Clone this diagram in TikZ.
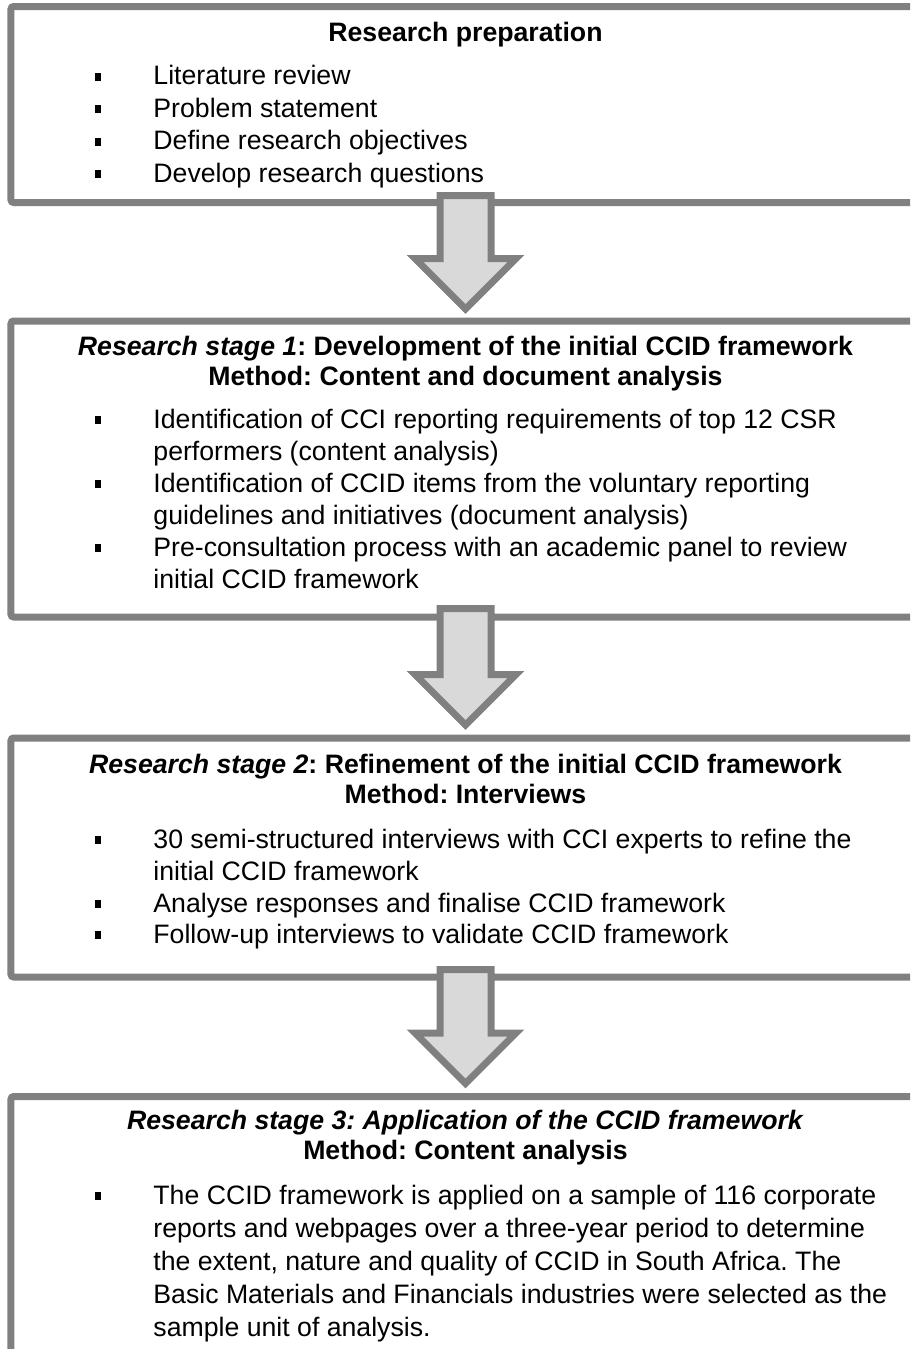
\documentclass[tikz,border=0pt]{standalone}
\usepackage{fontspec}
\setmainfont{Liberation Sans}
\usetikzlibrary{calc}
\frenchspacing

\begin{document}
\begin{tikzpicture}[x=0.45pt, y=-0.45pt]
	\tikzstyle{stage_box} = [rectangle, draw=black!50, fill=white, line width=3.15pt, rounded corners=1.2pt, minimum width=409.05pt, inner sep=0]
	\tikzstyle{stage_arrow} = [draw=black!50, fill=black!15, line width=3.15pt, miter limit=4]
	\tikzstyle{title_line} = [anchor=base, inner sep=0, font=\fontsize{12}{14.4}\selectfont\bfseries]
	\tikzstyle{item_line} = [anchor=base west, inner sep=0, font=\fontsize{12}{14.4}\selectfont]
	\tikzstyle{item_mark} = [rectangle, fill=black, inner sep=0, minimum width=2.7pt, minimum height=3.6pt]

	\useasboundingbox (0,0) rectangle (910,1349);
	\clip (0,0) rectangle (910,1349);

%------------------------------------------------------------
	\node[stage_box, minimum height=88.2pt] (prep) at (465.5,104.5) {};
	\node[stage_box, minimum height=133.2pt] (stage1) at (465.5,469) {};
	\node[stage_box, minimum height=107.55pt] (stage2) at (465.5,857.5) {};
	\node[stage_box, minimum height=127.6pt] (stage3) at (465.5,1238.3) {};

%------------------------------------------------------------

	\draw[stage_arrow] ($(prep.south)+(-25.5,-10.5)$) -- ($(prep.south)+(25.5,-10.5)$) -- ($(stage1.north)+(25.5,-59)$) -- ($(stage1.north)+(50.5,-59)$) -- ($(stage1.north)+(0,-8.5)$) -- ($(stage1.north)+(-50.5,-59)$) -- ($(stage1.north)+(-25.5,-59)$) -- cycle;
	\draw[stage_arrow] ($(stage1.south)+(-25.5,-12)$) -- ($(stage1.south)+(25.5,-12)$) -- ($(stage2.north)+(25.5,-60)$) -- ($(stage2.north)+(50.5,-60)$) -- ($(stage2.north)+(0,-9.5)$) -- ($(stage2.north)+(-50.5,-60)$) -- ($(stage2.north)+(-25.5,-60)$) -- cycle;
	\draw[stage_arrow] ($(stage2.south)+(-25.5,-11)$) -- ($(stage2.south)+(25.5,-11)$) -- ($(stage3.north)+(25.5,-60)$) -- ($(stage3.north)+(50.5,-60)$) -- ($(stage3.north)+(0,-9.5)$) -- ($(stage3.north)+(-50.5,-60)$) -- ($(stage3.north)+(-25.5,-60)$) -- cycle;

%------------------------------------------------------------

	\node[title_line] (prep_title) at (465.5,41) {Research preparation};

	\node[item_mark] (prep_m1) at (98,76.5) {};
	\node[item_mark] (prep_m2) at (98,109) {};
	\node[item_mark] (prep_m3) at (98,141.5) {};
	\node[item_mark] (prep_m4) at (98,174) {};
	\node[item_line] (prep_l1) at (153,84.5) {Literature review};
	\node[item_line] (prep_l2) at (153,117) {Problem statement};
	\node[item_line] (prep_l3) at (153,149.5) {Define research objectives};
	\node[item_line] (prep_l4) at (153,182) {Develop research questions};

%------------------------------------------------------------

	\node[title_line] (stage1_title) at (465.5,355) {\textit{Research stage 1}: Development of the initial CCID framework};
	\node[title_line] (stage1_method) at (465.5,385) {Method: Content and document analysis};

	\node[item_mark] (stage1_m1) at (98,420) {};
	\node[item_mark] (stage1_m2) at (98,484) {};
	\node[item_mark] (stage1_m3) at (98,548) {};
	\node[item_line] (stage1_l1) at (153,428) {Identification of CCI reporting requirements of top 12 CSR};
	\node[item_line] (stage1_l2) at (153,460) {performers (content analysis)};
	\node[item_line] (stage1_l3) at (153,492) {Identification of CCID items from the voluntary reporting};
	\node[item_line] (stage1_l4) at (153,524) {guidelines and initiatives (document analysis)};
	\node[item_line] (stage1_l5) at (153,556) {Pre-consultation process with an academic panel to review};
	\node[item_line] (stage1_l6) at (153,588) {initial CCID framework};

%------------------------------------------------------------

	\node[title_line] (stage2_title) at (465.5,773) {\textit{Research stage 2}: Refinement of the initial CCID framework};
	\node[title_line] (stage2_method) at (465.5,803) {Method: Interviews};

	\node[item_mark] (stage2_m1) at (98,840) {};
	\node[item_mark] (stage2_m2) at (98,904) {};
	\node[item_mark] (stage2_m3) at (98,935) {};
	\node[item_line] (stage2_l1) at (153,848) {30 semi-structured interviews with CCI experts to refine the};
	\node[item_line] (stage2_l2) at (153,880) {initial CCID framework};
	\node[item_line] (stage2_l3) at (153,912) {Analyse responses and finalise CCID framework};
	\node[item_line] (stage2_l4) at (153,943) {Follow-up interviews to validate CCID framework};

%------------------------------------------------------------

	\node[title_line] (stage3_title) at (465.5,1129) {\textit{Research stage 3: Application of the CCID framework}};
	\node[title_line] (stage3_method) at (465.5,1159) {Method: Content analysis};

	\node[item_mark] (stage3_m1) at (98,1196) {};
	\node[item_line] (stage3_l1) at (153,1204) {The CCID framework is applied on a sample of 116 corporate};
	\node[item_line] (stage3_l2) at (153,1237) {reports and webpages over a three-year period to determine};
	\node[item_line] (stage3_l3) at (153,1270) {the extent, nature and quality of CCID in South Africa. The};
	\node[item_line] (stage3_l4) at (153,1303) {Basic Materials and Financials industries were selected as the};
	\node[item_line] (stage3_l5) at (153,1336) {sample unit of analysis.};

\end{tikzpicture}
\end{document}
